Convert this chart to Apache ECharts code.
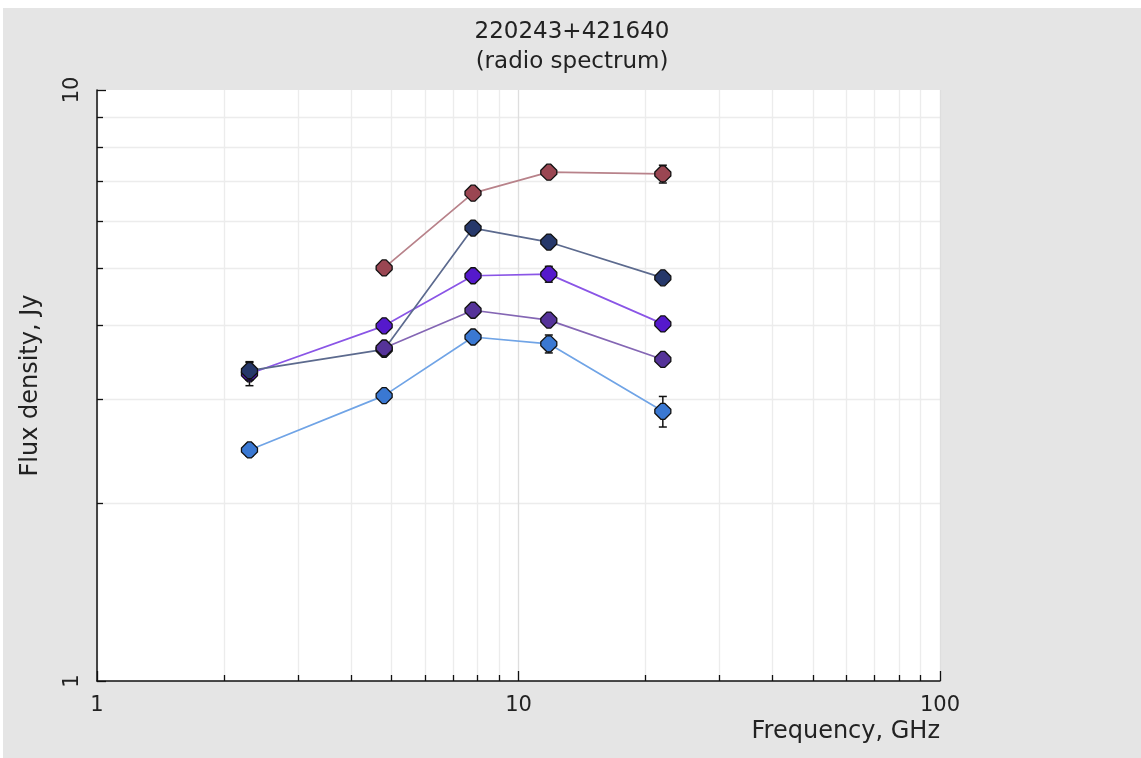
<!DOCTYPE html>
<html>
<head>
<meta charset="utf-8">
<script src="https://cdn.jsdelivr.net/npm/echarts@6/dist/echarts.min.js"></script>
<style>
  html, body { margin: 0; background: #fff; }
  #chart { position: absolute; left: 3px; top: 8px; width: 1138px; height: 750px; }
</style>
</head>
<body>
<div id="chart"></div>
<script>
// frequencies, GHz
const freqs = [2.3, 4.8, 7.8, 11.8, 22.0]

// flux densities, Jy (null = no measurement)
const fluxRed = [null, 5.0, 6.69, 7.26, 7.21]
const fluxNavy = [3.35, 3.64, 5.84, 5.53, 4.81]
const fluxViolet = [3.31, 3.99, 4.85, 4.88, 4.02]
const fluxPurple = [null, 3.66, 4.24, 4.08, 3.50]
const fluxBlue = [2.46, 3.04, 3.82, 3.72, 2.86]

// errors, Jy
const errRed = [0, 0.08, 0.08, 0.1, 0.25]
const errNavy = [0.12, 0.06, 0.08, 0.08, 0.08]
const errViolet = [0.15, 0.06, 0.08, 0.15, 0.08]
const errPurple = [0, 0.06, 0.06, 0.06, 0.06]
const errBlue = [0.06, 0.05, 0.06, 0.13, 0.17]

const xMajor = [1, 10, 100]
const xMinor = [2, 3, 4, 5, 6, 7, 8, 9, 20, 30, 40, 50, 60, 70, 80, 90]
const yMajor = [1, 10]
const yMinor = [2, 3, 4, 5, 6, 7, 8, 9]

const font = 'DejaVu Sans'
const octagon = 'path://M38,0 L62,0 L100,38 L100,62 L62,100 L38,100 L0,62 L0,38 Z'

const groups = [
  {name: 'blue', flux: fluxBlue, err: errBlue, fill: '#3a78d2', line: '#70a4e6'},
  {name: 'violet', flux: fluxViolet, err: errViolet, fill: '#5519cc', line: '#8a55e6'},
  {name: 'navy', flux: fluxNavy, err: errNavy, fill: '#26386a', line: '#5c6a8e'},
  {name: 'purple', flux: fluxPurple, err: errPurple, fill: '#553399', line: '#8466b4'},
  {name: 'red', flux: fluxRed, err: errRed, fill: '#9a4652', line: '#b8828a'},
]

function pairs(flux) {
  const out = []
  freqs.forEach((f, i) => { if (flux[i] != null) out.push([f, flux[i]]) })
  return out
}

function errData(flux, err) {
  const out = []
  freqs.forEach((f, i) => {
    if (flux[i] != null && err[i] > 0) out.push([f, flux[i] - err[i], flux[i] + err[i]])
  })
  return out
}

function renderErr(params, api) {
  const lo = api.coord([api.value(0), api.value(1)])
  const hi = api.coord([api.value(0), api.value(2)])
  const w = 4
  const style = {stroke: '#111', lineWidth: 1.5}
  return {
    type: 'group',
    children: [
      {type: 'line', shape: {x1: lo[0], y1: lo[1], x2: hi[0], y2: hi[1]}, style: style},
      {type: 'line', shape: {x1: lo[0] - w, y1: lo[1], x2: lo[0] + w, y2: lo[1]}, style: style},
      {type: 'line', shape: {x1: hi[0] - w, y1: hi[1], x2: hi[0] + w, y2: hi[1]}, style: style},
    ]
  }
}

const series = []
groups.forEach((g, k) => {
  series.push({
    type: 'custom',
    name: g.name + ' err',
    xAxisIndex: 0,
    yAxisIndex: 0,
    renderItem: renderErr,
    data: errData(g.flux, g.err),
    z: 2 + k * 2,
    silent: true
  })
  series.push({
    type: 'line',
    name: g.name,
    xAxisIndex: 0,
    yAxisIndex: 0,
    data: pairs(g.flux),
    symbol: octagon,
    symbolSize: 16,
    showAllSymbol: true,
    z: 3 + k * 2,
    lineStyle: {color: g.line, width: 1.7},
    itemStyle: {color: g.fill, borderColor: '#111', borderWidth: 1.3},
    animation: false
  })
})

const chart = echarts.init(document.getElementById('chart'))
chart.setOption({
  animation: false,
  backgroundColor: '#e5e5e5',
  textStyle: {fontFamily: font},
  title: {
    text: '220243+421640',
    subtext: '(radio spectrum)',
    left: 'center',
    top: 8,
    itemGap: 7,
    textStyle: {fontFamily: font, fontSize: 23, fontWeight: 'normal', color: '#222'},
    subtextStyle: {fontFamily: font, fontSize: 23, color: '#222'}
  },
  grid: {left: 94, top: 82, right: 201, bottom: 77, show: true, backgroundColor: '#fff', borderWidth: 0},
  xAxis: [
    {
      type: 'log', logBase: 10, min: 1, max: 100,
      name: 'Frequency, GHz', nameLocation: 'end', nameGap: 0,
      nameTextStyle: {fontFamily: font, fontSize: 24, color: '#222', align: 'right', verticalAlign: 'top', padding: [39, 0, 0, 0]},
      axisLine: {show: true, lineStyle: {color: '#111', width: 1.5}},
      axisTick: {show: true, inside: true, length: 6, customValues: xMinor, lineStyle: {color: '#111', width: 1.3}},
      axisLabel: {show: false},
      splitLine: {show: true, lineStyle: {color: '#ececec', width: 1.3}},
      minorTick: {show: false}
    },
    {
      type: 'log', logBase: 10, min: 1, max: 100, position: 'bottom',
      axisLine: {show: false},
      axisTick: {show: true, inside: true, length: 10, customValues: xMajor, lineStyle: {color: '#111', width: 1.3}},
      axisLabel: {show: true, customValues: xMajor, margin: 14, fontFamily: font, fontSize: 21, color: '#222'},
      splitLine: {show: true, lineStyle: {color: '#dedede', width: 1.3}}
    }
  ],
  yAxis: [
    {
      type: 'log', logBase: 10, min: 1, max: 10,
      name: 'Flux density, Jy', nameLocation: 'middle', nameGap: 54,
      nameTextStyle: {fontFamily: font, fontSize: 24, color: '#222'},
      axisLine: {show: true, lineStyle: {color: '#111', width: 1.5}},
      axisTick: {show: true, inside: true, length: 6, customValues: yMinor, lineStyle: {color: '#111', width: 1.3}},
      axisLabel: {show: false},
      splitLine: {show: true, lineStyle: {color: '#ececec', width: 1.3}}
    },
    {
      type: 'log', logBase: 10, min: 1, max: 10, position: 'left',
      axisLine: {show: false},
      axisTick: {show: true, inside: true, length: 9, customValues: yMajor, lineStyle: {color: '#111', width: 1.3}},
      axisLabel: {show: true, customValues: yMajor, rotate: 90, margin: 14, fontFamily: font, fontSize: 21, color: '#222'},
      splitLine: {show: false}
    }
  ],
  series: series
})
</script>
</body>
</html>
